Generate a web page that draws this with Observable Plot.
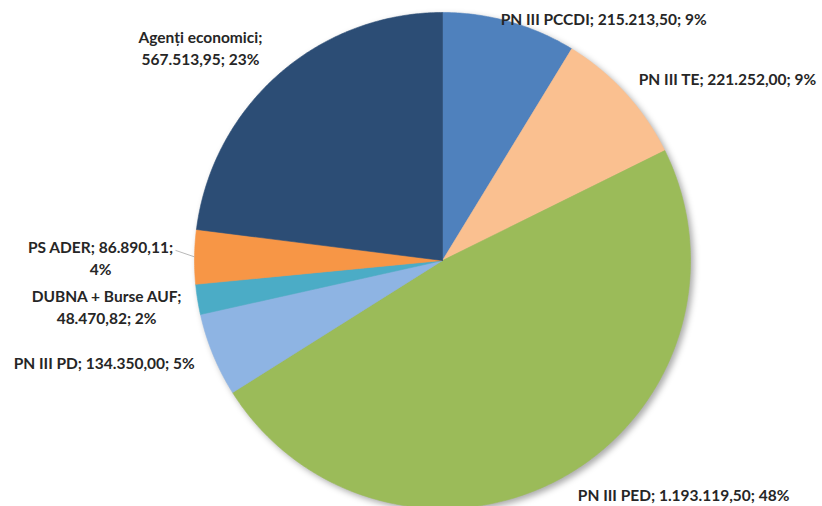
<!DOCTYPE html>
<html><head><meta charset="utf-8">
<script src="https://cdn.jsdelivr.net/npm/d3@7"></script>
<script src="https://cdn.jsdelivr.net/npm/@observablehq/plot@0.6"></script>
<style>
body{margin:0;background:#fff;}
#chart svg{display:block;}
g[aria-label="line"]{filter:drop-shadow(3px 3px 3px rgba(0,0,0,0.33));}
</style></head><body><div id="chart"></div>
<script>
// Data (clockwise from 12 o'clock)
const categories = ["PN III PCCDI", "PN III TE", "PN III PED", "PN III PD", "DUBNA + Burse AUF", "PS ADER", "Agenți economici"];
const values = [215213.50, 221252.00, 1193119.50, 134350.00, 48470.82, 86890.11, 567513.95];
const colors = ["#4F81BD", "#FAC090", "#9BBB59", "#8EB4E3", "#4BACC6", "#F79646", "#2C4D75"];
// which "; " separator a label breaks after (0 = single line)
const labelBreaks = [0, 0, 0, 0, 1, 2, 1];

// layout (pixels)
const W = 822, H = 506, CX = 442, CY = 260, R = 248;
// label offsets from slice mid-angle point on the rim (pixels)
const labelOffsets = [[94, -4], [102, -15], [120, 17], [-109, 7], [-91, 6], [-94, 0], [-78, -28]];

const ro = d3.formatLocale({decimal: ",", thousands: ".", grouping: [3], currency: ["", ""]});
const fmt = ro.format(",.2f");
const total = d3.sum(values);

let acc = 0;
const slices = categories.map((c, i) => {
  const a0 = acc / total * 2 * Math.PI;
  acc += values[i];
  const a1 = acc / total * 2 * Math.PI;
  return {cat: c, value: values[i], a0, a1, mid: (a0 + a1) / 2, i};
});

// polygon points per slice (unit circle coordinates)
const pts = [];
for (const s of slices) {
  pts.push({cat: s.cat, x: 0, y: 0});
  const n = Math.max(2, Math.ceil((s.a1 - s.a0) / (Math.PI / 360)));
  for (let k = 0; k <= n; k++) {
    const a = s.a0 + (s.a1 - s.a0) * k / n;
    pts.push({cat: s.cat, x: Math.sin(a), y: Math.cos(a)});
  }
  pts.push({cat: s.cat, x: 0, y: 0});
}

function labelText(s) {
  const parts = [s.cat, fmt(s.value), Math.round(s.value / total * 100) + "%"];
  const b = labelBreaks[s.i];
  if (!b) return parts.join("; ");
  return parts.slice(0, b).join("; ") + ";\n" + parts.slice(b).join("; ");
}

const marks = [
  Plot.line(pts, {x: "x", y: "y", z: "cat", fill: "cat", stroke: "cat", strokeWidth: 0.6, curve: "linear"})
];

// leader line for PS ADER
const ps = slices[5];
marks.push(Plot.link([ps], {
  x1: d => Math.sin(d.mid), y1: d => Math.cos(d.mid),
  x2: d => Math.sin(d.mid) - 19 / R, y2: d => Math.cos(d.mid) + 6.5 / R,
  stroke: "#a6a6a6", strokeWidth: 0.8
}));

for (const s of slices) {
  const [dx, dy] = labelOffsets[s.i];
  marks.push(Plot.text([s], {
    x: d => Math.sin(d.mid), y: d => Math.cos(d.mid),
    text: d => labelText(d),
    dx, dy,
    textAnchor: "middle",
    lineAnchor: "middle",
    lineHeight: 1.42,
    fontSize: 15.5,
    fontWeight: "bold",
    fill: "#262626"
  }));
}

const chart = Plot.plot({
  width: W, height: H,
  margin: 0,
  style: {fontFamily: "Lato, 'Open Sans', sans-serif", background: "#fff", overflow: "hidden"},
  x: {domain: [-CX / R, (W - CX) / R], axis: null},
  y: {domain: [(CY - H) / R, CY / R], axis: null},
  color: {domain: categories, range: colors},
  marks
});
document.getElementById("chart").appendChild(chart);
</script>
</body></html>
